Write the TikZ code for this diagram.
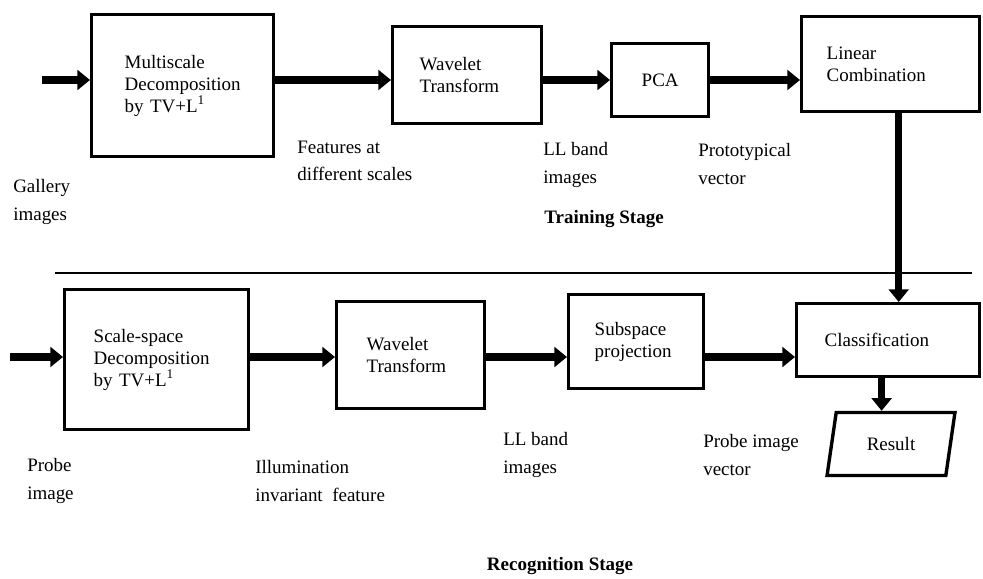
\documentclass[tikz,border=0pt]{standalone}
\usepackage{fontspec}
\setmainfont{Liberation Serif}
\usetikzlibrary{arrows.meta,shapes.geometric,positioning,calc}

\begin{document}
\begin{tikzpicture}[x=0.025cm,y=-0.025cm]
    % Define styles
    \tikzstyle{block} = [rectangle, draw, line width=2.4pt, anchor=north west, align=left, inner ysep=0pt, font=\fontsize{13.5}{15.5}\selectfont]
    \tikzstyle{output} = [trapezium, trapezium stretches=true, draw, line width=2.4pt, trapezium left angle=78, trapezium right angle=102, font=\fontsize{13.5}{15.5}\selectfont]
    \tikzstyle{flow} = [line width=5pt, -{Triangle[length=9pt,width=14pt]}]
    \tikzstyle{note} = [anchor=west, align=left, inner sep=0pt, font=\fontsize{13.5}{19.5}\selectfont]
    \tikzstyle{stage} = [note, anchor=center, font=\fontsize{13.5}{16}\selectfont\bfseries]

    \useasboundingbox (0,0) rectangle (983,578);

    % Training
    \node[block, minimum width=4.55cm, minimum height=3.55cm, text width=2.9cm, inner xsep=0.825cm] (ms) at (90,13) {Multiscale\\Decomposition\\by TV+L\textsuperscript{1}};
    \node[block, minimum width=3.725cm, minimum height=2.425cm, text width=2.375cm, inner xsep=0.675cm] (wt) at (391,25) {Wavelet\\Transform};
    \node[block, minimum width=2.425cm, minimum height=1.825cm, align=center] (pca) at (610,42) {PCA};
    \node[block, minimum width=4.45cm, minimum height=2.375cm, text width=3.2cm, inner xsep=0.625cm] (lc) at (800,15) {Linear\\Combination};

    % Recognition
    \node[block, minimum width=4.6cm, minimum height=3.5cm, text width=3.15cm, inner xsep=0.725cm] (sc) at (63,288) {Scale-space\\Decomposition\\by TV+L\textsuperscript{1}};
    \node[block, minimum width=3.7cm, minimum height=2.675cm, text width=2.2cm, inner xsep=0.75cm] (wr) at (335,300) {Wavelet\\Transform};
    \node[block, minimum width=3.375cm, minimum height=2.35cm, text width=2.075cm, inner xsep=0.65cm] (sp) at (567,293) {Subspace\\projection};
    \node[block, minimum width=4.575cm, minimum height=1.825cm, text width=3.175cm, inner xsep=0.7cm] (cls) at (795,302) {Classification};
    \node[output, minimum width=3.2cm, minimum height=1.575cm] (res) at (891,444) {Result};

    % Separator
    \draw[line width=1.2pt] (55,273) -- (972,273);

    % Arrows
    \coordinate (gin) at (42,80);
    \draw[flow] (gin) -- (gin -| ms.west);
    \draw[flow] (ms.east |- gin) -- (wt.west |- gin);
    \draw[flow] (wt.east |- gin) -- (pca.west |- gin);
    \draw[flow] (pca.east |- gin) -- (lc.west |- gin);
    \coordinate (drop) at ([xshift=0.2cm]lc.south);
    \draw[flow] (drop) -- (drop |- cls.north);

    \coordinate (pin) at (10,357);
    \draw[flow] (pin) -- (pin -| sc.west);
    \draw[flow] (sc.east |- pin) -- (wr.west |- pin);
    \draw[flow] (wr.east |- pin) -- (sp.west |- pin);
    \draw[flow] (sp.east |- pin) -- (cls.west |- pin);
    \coordinate (out) at ([xshift=-0.165cm]cls.south);
    \draw[flow] (out) -- (out |- res.north);

    % Labels
    \node[note] (gal) at (13,202) {Gallery\\images};
    \node[note] (feat) at (297,161) {Features at\\different scales};
    \node[note] (llt) at (543,165) {LL band\\images};
    \node[note] (proto) at (698,164) {Prototypical\\vector};
    \node[stage] (train) at (604,219) {Training Stage};

    \node[note] (probe) at (27,481) {Probe\\image};
    \node[note] (illum) at (255,481) {Illumination\\invariant\ \ feature};
    \node[note] (llb) at (503,455) {LL band\\images};
    \node[note] (pvec) at (703,455) {Probe image\\vector};
    \node[stage] (recog) at (560,566) {Recognition Stage};

\end{tikzpicture}
\end{document}
